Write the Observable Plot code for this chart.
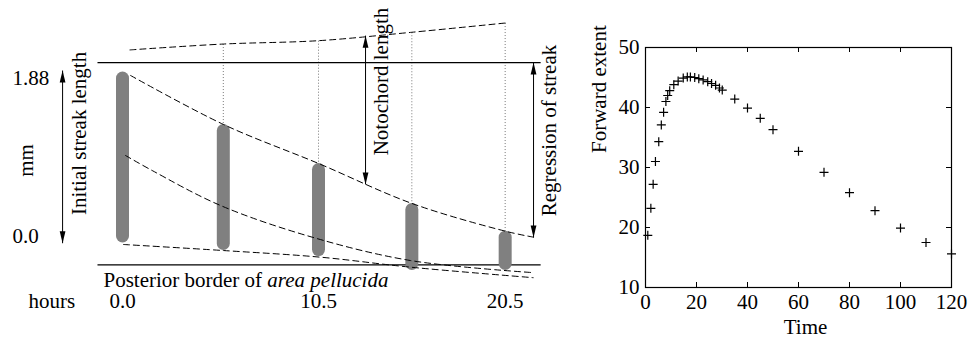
<!DOCTYPE html>
<html>
<head>
<meta charset="utf-8">
<script src="https://cdn.jsdelivr.net/npm/d3@7"></script>
<script src="https://cdn.jsdelivr.net/npm/@observablehq/plot@0.6"></script>
<style>
  html, body { margin: 0; padding: 0; background: #fff; }
  #figure { display: flex; width: 972px; height: 340px; background: #fff; }
  #figure svg { display: block; }
</style>
</head>
<body>
<div id="figure"></div>
<script>
// ---------- Left panel: streak regression schematic (hours vs mm) ----------
const hourTicks = [0, 10.5, 20.5];
const hourTickLabels = ["0.0", "10.5", "20.5"];
const mmTicks = [1.88, 0];
const mmTickLabels = ["1.88", "0.0"];

// grey streaks at each stage
const streakHours = [0, 5.4, 10.5, 15.5, 20.5];
const streakTop = [1.88, 1.255, 0.791, 0.315, -0.014];
const streakBottom = [0, -0.089, -0.161, -0.327, -0.327];

// node / notochord tip (upper dashed curve)
const nodeHours = [0.4, 5.4, 10.5, 15.5, 20.5];
const nodeMm = [2.22, 2.29, 2.33, 2.43, 2.54];

// anterior end of streak
const frontHours = [0.43, 5.41, 10.5, 15.51, 20.57, 22.02];
const frontMm = [1.916, 1.333, 0.869, 0.393, 0.06, -0.008];

// streak midpoint
const midHours = [0.16, 1.59, 5.25, 10.16, 15.43, 22.0];
const midMm = [0.964, 0.785, 0.369, -0.008, -0.286, -0.43];

// posterior end of streak
const rearHours = [0.05, 5.41, 10.6, 15.43, 22.0];
const rearMm = [-0.095, -0.167, -0.246, -0.365, -0.49];

// reference lines: initial anterior level and posterior border
const refLevels = [2.07, -0.337];
const refSpan = [-1.34, 22.4];

// dimension arrows
const arrowLabels = ["Initial streak length", "Notochord length", "Regression of streak"];
const arrowHours = [-3.21, 13.02, 22.02];
const arrowLow = [-0.08, 0.62, -0.012];
const arrowHigh = [1.975, 2.39, 2.07];
const arrowLabelHours = [-2.30, 13.87, 22.87];
const arrowLabelMm = [1.226, 1.844, 1.261];

const borderLabel = "Posterior border of area pellucida";

// ---------- Right panel: forward extent over time ----------
const times = [0.9, 2.1, 3.0, 3.9, 5.2, 6.2, 7.1, 8.0, 8.7, 9.5,
  11.1, 12.8, 14.8, 16.4, 17.6, 19.3, 20.9, 22.6, 24.4, 25.9, 27.5, 29.0, 30.1,
  35, 40, 45, 50, 60, 70, 80, 90, 100, 110, 120];
const extent = [18.7, 23.2, 27.2, 31.0, 34.3, 37.1, 39.2, 41.0, 42.0, 42.8,
  43.8, 44.4, 44.9, 45.1, 45.1, 45.0, 44.8, 44.6, 44.3, 44.0, 43.7, 43.25, 42.9,
  41.4, 39.9, 38.2, 36.3, 32.7, 29.2, 25.8, 22.8, 19.9, 17.5, 15.6];
const timeTicks = [0, 20, 40, 60, 80, 100, 120];
const extentTicks = [10, 20, 30, 40, 50];

// ---------- symbols ----------
const thinPlus = {
  draw(ctx, size) {
    const r = Math.sqrt(size / Math.PI);
    ctx.moveTo(-r, 0); ctx.lineTo(r, 0);
    ctx.moveTo(0, -r); ctx.lineTo(0, r);
  }
};
const headUp = {
  draw(ctx, size) {
    const r = Math.sqrt(size / Math.PI);
    ctx.moveTo(0, 0); ctx.lineTo(-r * 0.24, r); ctx.lineTo(r * 0.24, r); ctx.closePath();
  }
};
const headDown = {
  draw(ctx, size) {
    const r = Math.sqrt(size / Math.PI);
    ctx.moveTo(0, 0); ctx.lineTo(-r * 0.24, -r); ctx.lineTo(r * 0.24, -r); ctx.closePath();
  }
};

const zip = (xs, ys) => xs.map((x, i) => ({x, y: ys[i]}));
const font = {fontFamily: "Liberation Serif, Times New Roman, serif", fontSize: "21px", background: "white", color: "black"};

const streaks = streakHours.map((h, i) => ({h, top: streakTop[i], bottom: streakBottom[i]}));
const guides = nodeHours.slice(1).map((h, i) => ({h, top: nodeMm[i + 1], bottom: streakTop[i + 1]}));
const refs = refLevels.map(y => ({y, x1: refSpan[0], x2: refSpan[1]}));
const arrows = arrowLabels.map((label, i) => ({label, x: arrowHours[i], lo: arrowLow[i], hi: arrowHigh[i], lx: arrowLabelHours[i], ly: arrowLabelMm[i]}));
const hourLabels = hourTicks.map((h, i) => ({h, label: hourTickLabels[i]}));
const mmLabels = mmTicks.map((m, i) => ({m, label: mmTickLabels[i]}));

const dashed = {stroke: "black", strokeWidth: 1, strokeDasharray: "6,4", curve: "catmull-rom"};

const left = Plot.plot({
  width: 580,
  height: 340,
  margin: 0,
  style: font,
  x: {domain: [0, 20.5], range: [122, 504.67], axis: null},
  y: {domain: [0, 1.88], range: [236, 78], axis: null},
  marks: [
    // dotted drop lines from the notochord tip to each streak
    Plot.link(guides, {x1: "h", x2: "h", y1: "top", y2: "bottom", stroke: "#777", strokeWidth: 1, strokeDasharray: "1,2"}),
    Plot.link(refs, {x1: "x1", x2: "x2", y1: "y", y2: "y", stroke: "black", strokeWidth: 1.2}),
    Plot.line(zip(nodeHours, nodeMm), {x: "x", y: "y", ...dashed}),
    Plot.ruleX(streaks, {x: "h", y1: "bottom", y2: "top", stroke: "#808080", strokeWidth: 13, strokeLinecap: "round"}),
    Plot.line(zip(frontHours, frontMm), {x: "x", y: "y", ...dashed}),
    Plot.line(zip(midHours, midMm), {x: "x", y: "y", ...dashed}),
    Plot.line(zip(rearHours, rearMm), {x: "x", y: "y", ...dashed}),
    // dimension arrows
    Plot.link(arrows, {x1: "x", x2: "x", y1: "lo", y2: "hi", stroke: "black", strokeWidth: 1}),
    Plot.dot(arrows, {x: "x", y: "hi", symbol: headUp, r: 12, fill: "black", stroke: "none"}),
    Plot.dot(arrows, {x: "x", y: "lo", symbol: headDown, r: 12, fill: "black", stroke: "none"}),
    Plot.text(arrows, {x: "lx", y: "ly", text: "label", rotate: -90, fontSize: 21}),
    Plot.text(["mm"], {x: -5.14, y: 0.904, text: d => d, rotate: -90, fontSize: 21}),
    Plot.text(mmLabels, {x: -5.89, y: "m", text: "label", textAnchor: "start", fontSize: 21}),
    Plot.text(hourLabels, {x: "h", y: -0.775, text: "label", fontSize: 21}),
    Plot.text(["hours"], {x: -3.78, y: -0.775, text: d => d, fontSize: 21}),
    Plot.text([borderLabel], {x: -1.02, y: -0.515, text: d => d, textAnchor: "start", fontSize: 21})
  ]
});

// set the name of the area in italics
const ns = "http://www.w3.org/2000/svg";
for (const node of left.querySelectorAll("text")) {
  if (node.textContent === borderLabel) {
    node.textContent = "";
    const plain = document.createElementNS(ns, "tspan");
    plain.textContent = "Posterior border of ";
    const it = document.createElementNS(ns, "tspan");
    it.setAttribute("font-style", "italic");
    it.textContent = "area pellucida";
    node.append(plain, it);
  }
}

const right = Plot.plot({
  width: 392,
  height: 340,
  marginLeft: 65,
  marginRight: 21,
  marginTop: 47,
  marginBottom: 53,
  style: font,
  x: {domain: [0, 120]},
  y: {domain: [10, 50]},
  marks: [
    Plot.axisX(timeTicks, {tickSize: 0, tickPadding: 7, label: null, fontSize: 21}),
    Plot.axisY(extentTicks, {tickSize: 0, tickPadding: 6, label: null, fontSize: 21}),
    // inward ticks on all four sides
    Plot.tickX(timeTicks, {x: d => d, insetBottom: 235, stroke: "black"}),
    Plot.tickX(timeTicks, {x: d => d, insetTop: 235, stroke: "black"}),
    Plot.tickY(extentTicks, {y: d => d, insetRight: 301, stroke: "black"}),
    Plot.tickY(extentTicks, {y: d => d, insetLeft: 301, stroke: "black"}),
    Plot.frame({stroke: "black", strokeWidth: 1.2}),
    Plot.dot(zip(times, extent), {x: "x", y: "y", symbol: thinPlus, r: 4.5, stroke: "black", fill: "none", strokeWidth: 1.2}),
    Plot.text(["Time"], {frameAnchor: "bottom", text: d => d, dx: 7, dy: 46, fontSize: 21}),
    Plot.text(["Forward extent"], {frameAnchor: "left", text: d => d, dx: -46, dy: -14.5, rotate: -90, fontSize: 21})
  ]
});

document.getElementById("figure").append(left, right);
</script>
</body>
</html>
